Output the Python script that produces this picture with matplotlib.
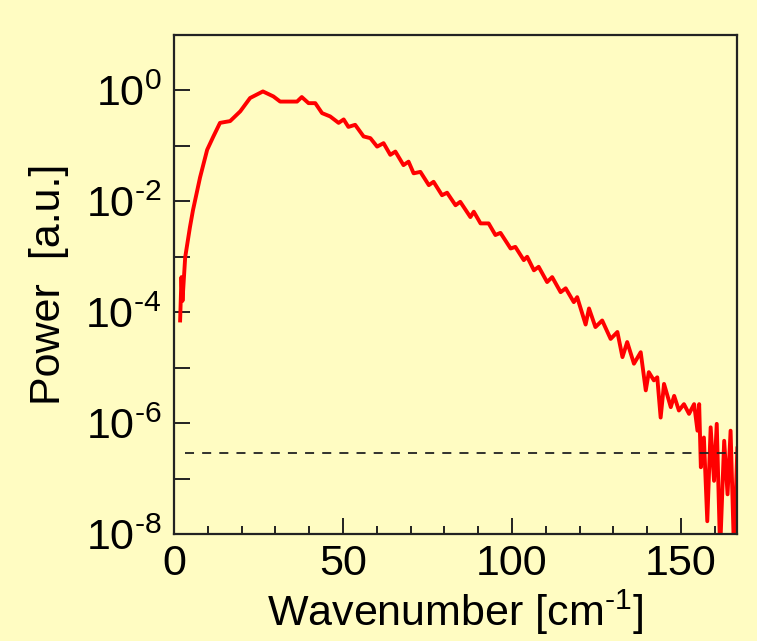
import numpy as np
import matplotlib
matplotlib.use("Agg")
import matplotlib.pyplot as plt
from matplotlib.ticker import FixedLocator, MultipleLocator, FuncFormatter

plt.rcParams['font.family'] = ['Liberation Sans', 'DejaVu Sans']
plt.rcParams['mathtext.fontset'] = 'custom'
plt.rcParams['mathtext.rm'] = 'Liberation Sans'
plt.rcParams['mathtext.it'] = 'Liberation Sans:italic'

# spectrum
wavenumber = [1.8, 2.2, 2.5, 3.3, 4.7, 5.6, 7.7, 9.8, 11.6, 13.6, 15.1, 16.6, 19.6,
              22.5, 26.3, 29.4, 31.4, 36.4, 37.8, 39.8, 41.8, 43.8, 46.2, 48.7,
              50.2, 51.6, 53.6, 56.1, 58.1, 60.1, 62.0, 64.0, 65.5, 67.9, 69.4,
              70.9, 72.9, 75.4, 76.8, 79.3, 80.8, 83.3, 84.7, 87.7, 88.7, 90.7,
              93.1, 95.1, 96.6, 99.6, 101.0, 103.5, 104.5, 106.5, 107.9, 110.4,
              111.9, 114.4, 115.9, 118.3, 119.3, 121.8, 122.8, 124.7, 126.7,
              129.2, 131.2, 132.7, 134.1, 136.1, 138.1, 139.6, 140.5, 142.0,
              143.0, 144.0, 145.0, 147.0, 148.0, 149.4, 150.9, 152.4, 153.9,
              154.9, 155.4, 155.9, 156.8, 157.8, 158.8, 159.8, 160.6, 161.6,
              162.8, 163.8, 164.7, 165.7, 166.7]
power = [7.1e-5, 4.3e-4, 1.6e-4, 9.8e-4, 3.4e-3, 6.9e-3, 2.7e-2, 0.085, 0.146,
         0.26, 0.27, 0.28, 0.42, 0.73, 0.96, 0.78, 0.63, 0.63, 0.76, 0.59, 0.59,
         0.39, 0.34, 0.26, 0.30, 0.22, 0.24, 0.148, 0.138, 0.097, 0.112, 0.069,
         0.079, 0.045, 0.052, 0.032, 0.034, 0.0196, 0.0225, 0.0129, 0.0143,
         0.0085, 0.0098, 0.0052, 0.0065, 0.0040, 0.0040, 0.00247, 0.0027,
         0.00141, 0.00151, 8.7e-4, 1.0e-3, 5.7e-4, 6.6e-4, 3.5e-4, 4.3e-4,
         2.3e-4, 2.7e-4, 1.52e-4, 1.87e-4, 6.0e-5, 1.17e-4, 5.4e-5, 7.1e-5,
         3.3e-5, 4.4e-5, 1.55e-5, 2.9e-5, 1.18e-5, 1.9e-5, 3.9e-6, 8.3e-6,
         5.9e-6, 6.7e-6, 1.26e-6, 5.1e-6, 1.94e-6, 3.1e-6, 1.69e-6, 2.2e-6,
         1.47e-6, 2.2e-6, 7.3e-7, 2.2e-6, 1.6e-7, 5.5e-7, 1.7e-8, 8.4e-7,
         9.1e-8, 9.7e-7, 5e-9, 4.8e-7, 5.2e-8, 7.3e-7, 5e-9, 3.5e-7]

noise_level = 2.85e-7
noise_range = [3.3, 166.7]

bg = '#FFFCC2'

fig = plt.figure(figsize=(7.57, 6.41), dpi=100, facecolor=bg)
ax = fig.add_axes([0.2299, 0.1669, 0.9736 - 0.2299, 0.9454 - 0.1669], facecolor=bg)

ax.plot(wavenumber, power, color='#FF0000', linewidth=2.8, solid_joinstyle='round')
ax.plot(noise_range, [noise_level, noise_level], color='#222222', linewidth=1.3,
        linestyle=(0, (5, 4.5)))

ax.set_yscale('log')
ax.set_xlim(0, 166.6)
ax.set_ylim(1e-8, 1e1)

# ticks: every decade, labels on even ones
ax.yaxis.set_major_locator(FixedLocator([10.0**k for k in range(-8, 1)]))
ax.yaxis.set_minor_locator(FixedLocator([]))
def ylab(v, pos):
    e = int(round(np.log10(v)))
    if e % 2:
        return ''
    if e < 0:
        return r'$\mathregular{10^{\text{-}%d}}$' % (-e)
    return r'$\mathregular{10^{%d}}$' % e
ax.yaxis.set_major_formatter(FuncFormatter(ylab))
ax.xaxis.set_major_locator(MultipleLocator(50))
ax.xaxis.set_minor_locator(MultipleLocator(10))

ax.tick_params(which='major', direction='in', length=11.5, width=1.4,
               labelsize=31, color='#222222', top=False, right=False)
ax.tick_params(which='minor', direction='in', length=5.5, width=1.4,
               color='#222222', top=False, right=False)
ax.tick_params(axis='y', pad=9)
ax.tick_params(axis='x', pad=7)

for s in ax.spines.values():
    s.set_linewidth(1.6)
    s.set_color('#222222')

ax.set_xlabel(r'Wavenumber [cm$^{\text{-}\mathregular{1}}$]', fontsize=31, labelpad=3)
ax.set_ylabel('Power  [a.u.]', fontsize=31, labelpad=12)

plt.savefig("out.png", dpi=100, facecolor=bg)
